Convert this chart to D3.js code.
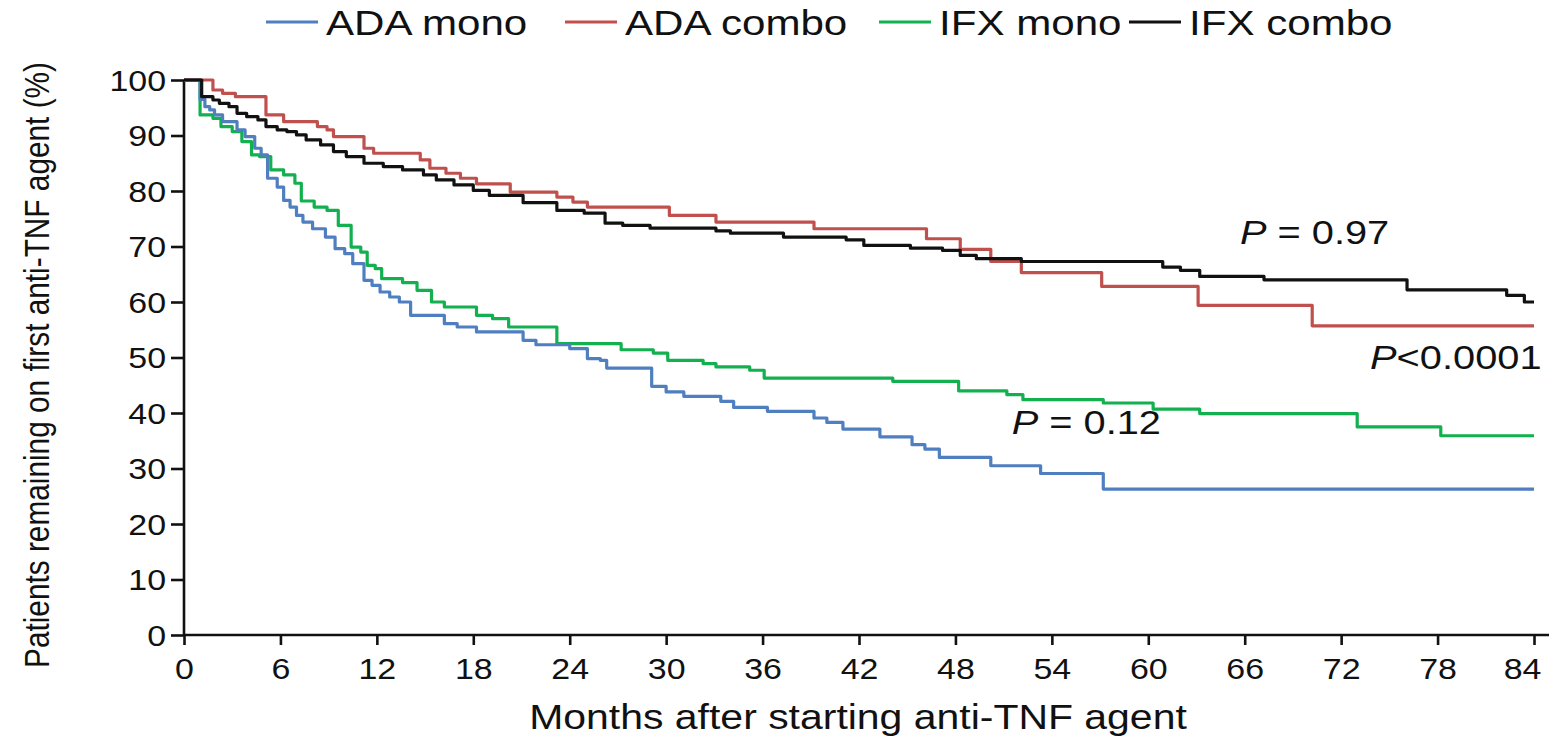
<!DOCTYPE html>
<html>
<head>
<meta charset="utf-8">
<script src="https://cdn.jsdelivr.net/npm/d3@7"></script>
<style>
  html, body { margin: 0; padding: 0; background: #fff; }
  svg { display: block; font-family: "Liberation Sans", Arial, Helvetica, sans-serif; }
</style>
</head>
<body>
<svg id="chart" width="1559" height="736"></svg>
<script>
// Kaplan–Meier drug persistence: [month, % remaining] at each step
const seriesNames = ["ADA mono", "ADA combo", "IFX mono", "IFX combo"];
const seriesColors = ["#4f7fc0", "#c0504d", "#13b04f", "#111111"];

const adaMono = [
  [0,100],[1.0,96.5],[1.3,95.2],[1.6,94.6],[1.9,93.7],[2.4,92.5],[3.3,91.0],[3.8,89.8],
  [4.4,87.7],[4.8,86.5],[5.2,82.3],[5.8,80.7],[6.2,78.3],[6.6,77.1],[7.0,75.6],[7.4,74.4],
  [8.0,73.2],[8.8,71.7],[9.4,69.6],[10.0,68.7],[10.5,66.9],[11.2,63.9],[11.7,63.0],[12.2,61.8],
  [12.8,60.9],[13.4,60.0],[14.1,57.6],[16.2,56.1],[17.0,55.5],[18.2,54.6],[21.1,53.1],[21.9,52.3],
  [24.0,51.6],[25.1,49.8],[25.9,49.5],[26.3,48.1],[29.1,44.8],[30.0,43.8],[31.1,43.0],[33.4,42.1],
  [34.2,41.0],[36.3,40.3],[39.2,39.1],[40.0,38.3],[41.0,37.1],[43.3,35.7],[45.3,34.3],[46.1,33.5],
  [47.0,32.0],[50.2,30.5],[53.3,29.1],[57.2,26.3],[84,26.3]
];

const adaCombo = [
  [0,100],[1.8,98.2],[2.4,97.6],[3.2,97.0],[5.1,93.7],[6.2,92.5],[8.3,91.6],[8.9,91.0],
  [9.3,89.8],[11.2,87.7],[11.8,86.8],[14.7,85.6],[15.3,84.1],[16.3,83.2],[17.2,82.3],[18.2,81.3],
  [20.3,79.8],[23.2,78.9],[24.2,78.0],[25.1,77.1],[30.2,75.6],[33.1,74.4],[39.2,73.2],[46.2,71.4],
  [48.3,69.5],[50.2,67.3],[52.1,65.3],[57.1,62.8],[63.1,59.4],[70.2,55.7],[84,55.7]
];

const ifxMono = [
  [0,100],[1.0,93.7],[1.8,93.1],[2.3,91.6],[3.0,90.7],[3.6,88.9],[4.2,86.5],[4.7,86.2],
  [5.4,83.8],[6.2,82.9],[6.9,81.4],[7.3,78.2],[8.1,77.1],[8.9,76.5],[9.6,73.8],[10.4,69.9],
  [11.0,69.0],[11.4,66.6],[11.9,66.0],[12.3,64.2],[13.6,63.5],[14.5,62.1],[15.4,60.0],[16.2,59.1],
  [18.2,57.6],[19.2,57.0],[20.2,55.5],[23.2,52.5],[27.2,51.4],[29.2,50.8],[30.1,49.5],[32.3,48.9],
  [33.1,48.3],[35.2,47.7],[36.1,46.3],[44.1,45.7],[48.2,44.0],[51.2,43.3],[52.2,42.4],[57.2,41.8],
  [60.3,40.7],[63.2,39.9],[73.0,37.5],[78.2,35.9],[84,35.9]
];

const ifxCombo = [
  [0,100],[1.1,97.0],[1.8,96.4],[2.2,95.8],[2.8,95.2],[3.3,94.0],[3.9,93.4],[4.6,92.8],
  [5.1,91.6],[5.8,91.0],[6.4,90.7],[7.0,90.1],[7.6,89.2],[8.5,88.3],[9.3,87.1],[10.1,86.2],
  [11.2,85.0],[12.4,84.4],[13.6,83.8],[14.9,82.9],[15.7,82.0],[16.8,81.1],[18.0,80.1],[19.0,79.2],
  [21.1,77.9],[23.2,76.5],[24.9,76.0],[26.2,74.2],[27.3,73.8],[29.0,73.3],[33.1,72.8],[34.0,72.4],
  [37.3,71.7],[41.2,71.2],[42.3,70.2],[45.2,69.7],[47.2,69.3],[48.3,68.4],[49.3,67.8],[52.1,67.3],
  [60.9,66.3],[62.0,65.7],[63.2,64.6],[67.2,64.0],[76.1,62.2],[82.3,61.2],[83.4,60.0],[84,60.0]
];

const xTicks = [0, 6, 12, 18, 24, 30, 36, 42, 48, 54, 60, 66, 72, 78, 84];
const yTicks = [0, 10, 20, 30, 40, 50, 60, 70, 80, 90, 100];

// P-value annotations: [text after the italic P, anchor month, anchor %]
const pLabels = [
  ["= 0.97", 65.7, 70.5],
  ["<0.0001", 73.8, 48.0],
  ["= 0.12", 51.5, 36.3]
];

const xTitle = "Months after starting anti-TNF agent";
const yTitle = "Patients remaining on first anti-TNF agent (%)";

// ---------------------------------------------------------------
const stretch = 1.17;   // horizontal widening of the lettering
const svg = d3.select("#chart");

const x = d3.scaleLinear().domain([0, 84]).range([184, 1534]);
const y = d3.scaleLinear().domain([0, 100]).range([635, 80]);

// Axes
const xAxis = svg.append("g")
  .attr("transform", `translate(0,${y(0)})`)
  .call(d3.axisBottom(x).tickValues(xTicks).tickSize(10).tickPadding(6).tickSizeOuter(0));
const yAxis = svg.append("g")
  .attr("transform", `translate(${x(0)},0)`)
  .call(d3.axisLeft(y).tickValues(yTicks).tickSize(13).tickPadding(5).tickSizeOuter(0));

[xAxis, yAxis].forEach(g => {
  g.select(".domain").attr("stroke", "#111").attr("stroke-width", 2.6);
  g.selectAll(".tick line").attr("stroke", "#111").attr("stroke-width", 2.6);
  g.selectAll(".tick text")
    .attr("fill", "#111")
    .style("font-size", "29px");
});
// extend the baseline a little beyond the last month
xAxis.select(".domain").attr("d", `M${x(0)},0H1549`);
yAxis.select(".domain").attr("d", `M0,${y(0)}V${y(100)}`);

xAxis.selectAll(".tick text").each(function() {
  d3.select(this).attr("transform", `scale(${stretch},1)`).attr("dy", "0.95em");
});
xAxis.selectAll(".tick").filter(d => d === 84).select("text").attr("x", -12 / stretch);
yAxis.selectAll(".tick text").each(function() {
  const t = d3.select(this);
  const xx = +t.attr("x");
  t.attr("x", xx / stretch).attr("transform", `scale(${stretch},1)`).attr("dy", "0.36em");
});

// Survival curves
const line = d3.line()
  .x(d => x(d[0]))
  .y(d => y(d[1]))
  .curve(d3.curveStepAfter);

const allSeries = [adaMono, adaCombo, ifxMono, ifxCombo];
// stacking order: green, blue, red, black on top
[2, 0, 1, 3].forEach(i => {
  svg.append("path")
    .datum(allSeries[i])
    .attr("d", line)
    .attr("fill", "none")
    .attr("stroke", seriesColors[i])
    .attr("stroke-width", 3.2)
    .attr("stroke-linejoin", "round");
});

// Legend
const legendX = [266, 565, 879, 1129];
const legend = svg.append("g");
seriesNames.forEach((name, i) => {
  legend.append("line")
    .attr("x1", legendX[i]).attr("x2", legendX[i] + 52)
    .attr("y1", 22).attr("y2", 22)
    .attr("stroke", seriesColors[i]).attr("stroke-width", 3.2);
  legend.append("text")
    .attr("transform", `translate(${legendX[i] + 60},35) scale(${stretch},1)`)
    .attr("fill", "#111")
    .style("font-size", "36px")
    .text(name);
});

// P-value annotations
pLabels.forEach(([rest, m, v]) => {
  const t = svg.append("text")
    .attr("transform", `translate(${x(m)},${y(v)}) scale(${stretch},1)`)
    .attr("fill", "#111")
    .style("font-size", "34px");
  t.append("tspan").style("font-style", "italic").text("P");
  t.append("tspan").text(rest.startsWith("=") ? " " + rest : rest);
});

// Axis titles
svg.append("text")
  .attr("transform", `translate(858,729) scale(${stretch},1)`)
  .attr("text-anchor", "middle")
  .attr("fill", "#111")
  .style("font-size", "35px")
  .text(xTitle);

svg.append("text")
  .attr("transform", `translate(49,365) rotate(-90) scale(1,${stretch})`)
  .attr("text-anchor", "middle")
  .attr("fill", "#111")
  .style("font-size", "29.8px")
  .text(yTitle);
</script>
</body>
</html>
